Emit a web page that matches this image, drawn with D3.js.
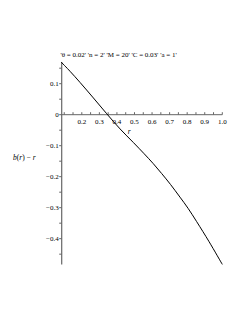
<!DOCTYPE html>
<html>
<head>
<meta charset="utf-8">
<script src="https://cdn.jsdelivr.net/npm/d3@7"></script>
<style>
  body { margin: 0; background: #fff; }
</style>
</head>
<body>
<div id="chart"></div>
<script>
    // values
    const rValues = [0.082, 0.133, 0.190, 0.266, 0.342, 0.418, 0.494, 0.555, 0.607, 0.655, 0.705, 0.759, 0.805, 0.854, 0.925, 1.0]
    const bMinusR = [0.170, 0.140, 0.104, 0.054, 0.003, -0.046, -0.090, -0.126, -0.158, -0.190, -0.225, -0.266, -0.302, -0.345, -0.410, -0.483]

    const xTickValues = [0.2, 0.3, 0.4, 0.5, 0.6, 0.7, 0.8, 0.9, 1.0]
    const yTickValues = [0.1, 0, -0.1, -0.2, -0.3, -0.4]
    const title = "'\u03B8 = 0.02' 'n = 2' 'M = 20' 'C = 0.03' 'a = 1'"

    const graphWidth = 245
    const graphHeight = 317
    const serif = "'Liberation Serif', 'DejaVu Serif', serif"

    let svg = d3.select("#chart")
        .append("svg")
        .attr("width", graphWidth)
        .attr("height", graphHeight)
        .attr("font-family", serif)

    let x = d3.scaleLinear() // r axis
        .domain([0.0855, 1.0])
        .range([61.7, 222.3])

    let y = d3.scaleLinear() // b(r) - r axis
        .domain([-0.483, 0.17])
        .range([264.4, 62])

    const axisColor = "#666"

    // minor ticks every 0.05
    let xMinor = d3.range(0.1, 1.0001, 0.05)
    let yMinor = d3.range(-0.45, 0.1501, 0.05)

    // x axis (ticks pointing up)
    let xAxis = svg.append("g")
        .attr("transform", "translate(0," + y(0) + ")")
    xAxis.append("line")
        .attr("x1", x.range()[0]).attr("x2", x.range()[1])
        .attr("stroke", axisColor).attr("stroke-width", 1)
    xAxis.selectAll(".minor").data(xMinor).enter()
        .append("line")
        .attr("x1", (d) => x(d)).attr("x2", (d) => x(d))
        .attr("y1", 0).attr("y2", -2.5)
        .attr("stroke", axisColor)
    xAxis.selectAll(".lbl").data(xTickValues).enter()
        .append("text")
        .attr("x", (d) => x(d))
        .attr("y", 9.5)
        .attr("text-anchor", "middle")
        .attr("font-size", 7)
        .attr("fill", "#000")
        .text((d) => d.toFixed(1))

    // y axis (ticks pointing left)
    let yAxis = svg.append("g")
        .attr("transform", "translate(" + x(x.domain()[0]) + ",0)")
    yAxis.append("line")
        .attr("y1", y.range()[0]).attr("y2", y.range()[1])
        .attr("stroke", axisColor).attr("stroke-width", 1.2)
    yAxis.selectAll(".minor").data(yMinor).enter()
        .append("line")
        .attr("y1", (d) => y(d)).attr("y2", (d) => y(d))
        .attr("x1", 0).attr("x2", -2.5)
        .attr("stroke", axisColor)
    yAxis.selectAll(".lbl").data(yTickValues).enter()
        .append("text")
        .attr("x", -3)
        .attr("y", (d) => y(d) + 2.4)
        .attr("text-anchor", "end")
        .attr("font-size", 7)
        .attr("fill", "#000")
        .text((d) => d === 0 ? "0" : (d < 0 ? "\u2212" + (-d).toFixed(1) : d.toFixed(1)))

    // curve
    let line = d3.line()
        .x((d, i) => x(rValues[i]))
        .y((d) => y(d))
        .curve(d3.curveCatmullRom.alpha(0.5))
    svg.append("path")
        .datum(bMinusR)
        .attr("d", line)
        .attr("fill", "none")
        .attr("stroke", "#000")
        .attr("stroke-width", 1)

    // axis labels
    svg.append("text")
        .attr("x", x(0.47))
        .attr("y", 134)
        .attr("text-anchor", "middle")
        .attr("font-size", 7.5)
        .attr("font-style", "italic")
        .attr("fill", "#000")
        .text("r")

    let yLabel = svg.append("text")
        .attr("x", 13)
        .attr("y", 160)
        .attr("font-size", 7.5)
        .attr("fill", "#000")
    yLabel.append("tspan").attr("font-style", "italic").text("b")
    yLabel.append("tspan").text("(")
    yLabel.append("tspan").attr("font-style", "italic").text("r")
    yLabel.append("tspan").text(") \u2212 ")
    yLabel.append("tspan").attr("font-style", "italic").text("r")

    // title
    svg.append("text")
        .attr("x", 60.5)
        .attr("y", 57)
        .attr("font-size", 7)
        .attr("fill", "#000")
        .text(title)
</script>
</body>
</html>
